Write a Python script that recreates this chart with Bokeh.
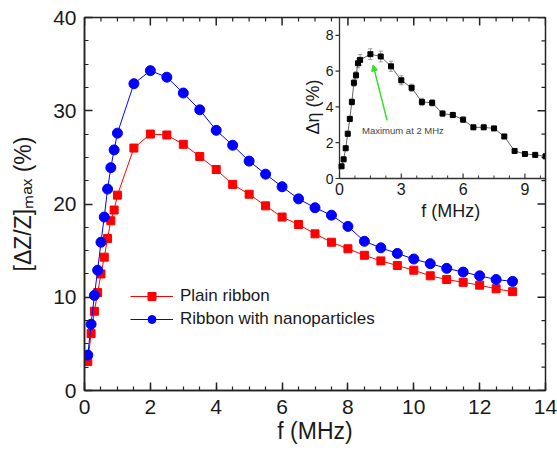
import numpy as np
from bokeh.plotting import figure
from bokeh.models import (Range1d, LinearAxis, SingleIntervalTicker, Legend,
                          LegendItem, Arrow, NormalHead)
from bokeh.embed import file_html
from bokeh.resources import INLINE
from bokeh.core.properties import value

FONT = "Liberation Sans"

# ---------------- main data ----------------
freq = [0.1, 0.2, 0.3, 0.4, 0.5, 0.6, 0.7, 0.8, 0.9, 1.0,
        1.5, 2.0, 2.5, 3.0, 3.5, 4.0, 4.5, 5.0, 5.5, 6.0, 6.5, 7.0,
        7.5, 8.0, 8.5, 9.0, 9.5, 10.0, 10.5, 11.0, 11.5, 12.0, 12.5, 13.0]
plain = [3.1, 6.1, 8.5, 10.5, 12.5, 14.3, 16.3, 18.2, 19.35, 20.95,
         26.0, 27.5, 27.4, 26.4, 25.1, 23.7, 22.1, 21.05, 19.8, 18.6, 17.8, 16.8,
         15.9, 15.2, 14.5, 13.9, 13.4, 12.9, 12.3, 11.9, 11.6, 11.3, 10.9, 10.6]
nano = [3.8, 7.1, 10.2, 12.9, 15.9, 18.6, 21.6, 23.9, 25.8, 27.6,
        32.9, 34.3, 33.6, 31.9, 30.1, 27.9, 26.3, 24.6, 23.2, 21.85, 20.55, 19.6,
        18.8, 17.6, 16.0, 15.3, 14.7, 14.1, 13.6, 13.1, 12.7, 12.3, 11.9, 11.7]
X_RANGE = (0, 14)
Y_RANGE = (0, 40)
X_MAJOR = 2
Y_MAJOR = 10
N_MINOR = 4

# ---------------- inset data ----------------
inset_f = [0.1, 0.2, 0.3, 0.4, 0.5, 0.6, 0.7, 0.8, 0.9, 1.0,
           1.5, 2.0, 2.5, 3.0, 3.5, 4.0, 4.5, 5.0, 5.5, 6.0, 6.5, 7.0,
           7.5, 8.0, 8.5, 9.0, 9.5, 10.0]
inset_eta = [0.68, 1.07, 1.69, 2.50, 3.33, 4.28, 5.35, 5.77, 6.44, 6.63,
             6.95, 6.82, 6.27, 5.49, 5.07, 4.28, 4.23, 3.63, 3.55, 3.29, 2.86, 2.86,
             2.80, 2.35, 1.54, 1.37, 1.32, 1.24]
inset_err = [0.1, 0.12, 0.12, 0.15, 0.15, 0.18, 0.2, 0.2, 0.25, 0.3,
             0.3, 0.3, 0.28, 0.25, 0.2, 0.2, 0.18, 0.15, 0.15, 0.15, 0.12, 0.12,
             0.12, 0.12, 0.1, 0.1, 0.1, 0.1]
inset_xticks = [0, 3, 6, 9]
inset_xminor = [0.75, 1.5, 2.25, 3.75, 4.5, 5.25, 6.75, 7.5, 8.25, 9.75]
inset_yticks = [0, 2, 4, 6, 8]
INSET_X = (0, 10)
INSET_Y = (0, 9)
annot_text = "Maximum at 2 MHz"
annot_pos = (3.08, 2.68)
arrow_tail = (2.31, 3.25)
arrow_head = (1.63, 6.35)

# inset placement as fractions of the main frame (left, bottom)
INSET_LEFT_FRAC = 255 / 461
INSET_BOTTOM_FRAC = 212 / 373

p = figure(width=557, height=451, x_range=Range1d(*X_RANGE), y_range=Range1d(*Y_RANGE),
           output_backend="svg", toolbar_location=None,
           x_axis_type=None, y_axis_type=None,
           min_border_left=84, min_border_right=12, min_border_top=17, min_border_bottom=61)
p.outline_line_color = "#222222"
p.outline_line_width = 1.5
p.background_fill_color = "white"
p.border_fill_color = "white"

AXC = "#222222"


def style_axis(ax, standoff):
    ax.major_tick_in = 8
    ax.major_tick_out = 0
    ax.minor_tick_in = 4
    ax.minor_tick_out = 0
    ax.axis_line_width = 1.5
    ax.axis_line_color = AXC
    ax.major_tick_line_width = 1.5
    ax.major_tick_line_color = AXC
    ax.minor_tick_line_width = 1.2
    ax.minor_tick_line_color = AXC
    ax.major_label_text_font = FONT
    ax.major_label_text_font_size = "21px"
    ax.major_label_text_color = "#1a1a1a"
    ax.major_label_standoff = standoff
    ax.axis_label_text_font = FONT
    ax.axis_label_text_font_style = "normal"
    ax.axis_label_text_color = "#1a1a1a"
    return ax


xb = style_axis(LinearAxis(ticker=SingleIntervalTicker(interval=X_MAJOR, num_minor_ticks=N_MINOR)), 9)
xb.axis_label = "f (MHz)"
xb.axis_label_text_font_size = "23px"
xb.axis_label_standoff = 1
yl = style_axis(LinearAxis(ticker=SingleIntervalTicker(interval=Y_MAJOR, num_minor_ticks=N_MINOR)), 8)
yl.axis_label = "[ΔZ/Z]ₘₐₓ (%)"
yl.axis_label_text_font_size = "23px"
yl.axis_label_standoff = 14
p.add_layout(xb, "below")
p.add_layout(yl, "left")

# mirror ticks on top and right edges
top_major = np.arange(X_RANGE[0], X_RANGE[1] + 1e-9, X_MAJOR)
top_minor = np.setdiff1d(np.round(np.arange(X_RANGE[0], X_RANGE[1] + 1e-9, X_MAJOR / N_MINOR), 6), top_major)
right_major = np.arange(Y_RANGE[0], Y_RANGE[1] + 1e-9, Y_MAJOR)
right_minor = np.setdiff1d(np.round(np.arange(Y_RANGE[0], Y_RANGE[1] + 1e-9, Y_MAJOR / N_MINOR), 6), right_major)
p.ray(x=top_major, y=[Y_RANGE[1]] * len(top_major), length=8, length_units="screen",
      angle=-np.pi / 2, line_color=AXC, line_width=1.5)
p.ray(x=top_minor, y=[Y_RANGE[1]] * len(top_minor), length=4, length_units="screen",
      angle=-np.pi / 2, line_color=AXC, line_width=1.2)
p.ray(x=[X_RANGE[1]] * len(right_major), y=right_major, length=8, length_units="screen",
      angle=np.pi, line_color=AXC, line_width=1.5)
p.ray(x=[X_RANGE[1]] * len(right_minor), y=right_minor, length=4, length_units="screen",
      angle=np.pi, line_color=AXC, line_width=1.2)

# main series
r_line = p.line(freq, plain, line_color="#ff0000", line_width=1)
r_sc = p.scatter(freq, plain, marker="square", size=8, fill_color="#ff0000", line_color="#ff0000")
b_line = p.line(freq, nano, line_color="#0000ff", line_width=1)
b_sc = p.scatter(freq, nano, marker="circle", size=10, fill_color="#0000ff", line_color="#0000ff")

legend = Legend(items=[LegendItem(label="Plain ribbon", renderers=[r_line, r_sc]),
                       LegendItem(label="Ribbon with nanoparticles", renderers=[b_line, b_sc])],
                location=(46, 61))
legend.glyph_width = 43
legend.glyph_height = 20
legend.label_height = 20
legend.label_standoff = 7
legend.spacing = 3
legend.padding = 0
legend.margin = 0
legend.border_line_alpha = 0
legend.background_fill_alpha = 0
legend.label_text_font = FONT
legend.label_text_font_size = "17px"
legend.label_text_color = "#1a1a1a"
p.add_layout(legend)

# ---------------- inset via extra ranges ----------------
ix0 = INSET_X[0] - INSET_LEFT_FRAC * (INSET_X[1] - INSET_X[0]) / (1 - INSET_LEFT_FRAC)
iy0 = INSET_Y[0] - INSET_BOTTOM_FRAC * (INSET_Y[1] - INSET_Y[0]) / (1 - INSET_BOTTOM_FRAC)
p.extra_x_ranges = {"ix": Range1d(ix0, INSET_X[1])}
p.extra_y_ranges = {"iy": Range1d(iy0, INSET_Y[1])}
IR = dict(x_range_name="ix", y_range_name="iy")
AX_COL = "#333333"

# inset axis lines
p.segment(x0=[INSET_X[0], INSET_X[0]], y0=[INSET_Y[0], INSET_Y[0]],
          x1=[INSET_X[0], INSET_X[1]], y1=[INSET_Y[1], INSET_Y[0]],
          line_color=AX_COL, line_width=1.3, **IR)
# inset ticks
p.ray(x=[INSET_X[0]] * len(inset_yticks), y=inset_yticks, length=4, length_units="screen",
      angle=np.pi, line_color=AX_COL, line_width=1.2, **IR)
p.ray(x=inset_xticks, y=[INSET_Y[0]] * len(inset_xticks), length=5, length_units="screen",
      angle=np.pi / 2, line_color=AX_COL, line_width=1.2, **IR)
p.ray(x=inset_xminor, y=[INSET_Y[0]] * len(inset_xminor), length=3, length_units="screen",
      angle=np.pi / 2, line_color=AX_COL, line_width=1, **IR)
# inset tick labels
p.text(x=[INSET_X[0]] * len(inset_yticks), y=inset_yticks, text=[str(v) for v in inset_yticks],
       x_offset=-6, text_align="right", text_baseline="middle", text_font=value(FONT),
       text_font_size="14px", text_color="#1a1a1a", **IR)
p.text(x=inset_xticks, y=[INSET_Y[0]] * len(inset_xticks), text=[str(v) for v in inset_xticks],
       y_offset=4, text_align="center", text_baseline="top", text_font=value(FONT),
       text_font_size="16px", text_color="#1a1a1a", **IR)
# inset axis titles
p.text(x=[5.4], y=[INSET_Y[0]], text=["f (MHz)"], y_offset=32, text_align="center",
       text_baseline="middle", text_font=value(FONT), text_font_size="18px",
       text_color="#1a1a1a", **IR)
p.text(x=[INSET_X[0]], y=[4.0], text=["Δη (%)"], x_offset=-27, angle=np.pi / 2,
       text_align="center", text_baseline="alphabetic", text_font=value(FONT),
       text_font_size="18px", text_color="#1a1a1a", **IR)

# inset data
lo = [v - e for v, e in zip(inset_eta, inset_err)]
hi = [v + e for v, e in zip(inset_eta, inset_err)]
p.segment(x0=inset_f, y0=lo, x1=inset_f, y1=hi, line_color="#999999", line_width=1, **IR)
p.scatter(inset_f, lo, marker="dash", size=4, line_color="#999999", **IR)
p.scatter(inset_f, hi, marker="dash", size=4, line_color="#999999", **IR)
p.line(inset_f, inset_eta, line_color="#666666", line_width=1, **IR)
p.scatter(inset_f, inset_eta, marker="square", size=5, fill_color="black", line_color="black", **IR)

# annotation arrow + text
green = "#33e024"
p.add_layout(Arrow(x_start=arrow_tail[0], y_start=arrow_tail[1], x_end=arrow_head[0], y_end=arrow_head[1],
                   line_color=green, line_width=1.5,
                   end=NormalHead(size=6, fill_color=green, line_color=green),
                   x_range_name="ix", y_range_name="iy"))
p.text(x=[annot_pos[0]], y=[annot_pos[1]], text=[annot_text], text_align="center",
       text_baseline="middle", text_font=value(FONT), text_font_size="9.5px",
       text_color="#444444", **IR)

open("out.html", "w").write(file_html(p, INLINE))
